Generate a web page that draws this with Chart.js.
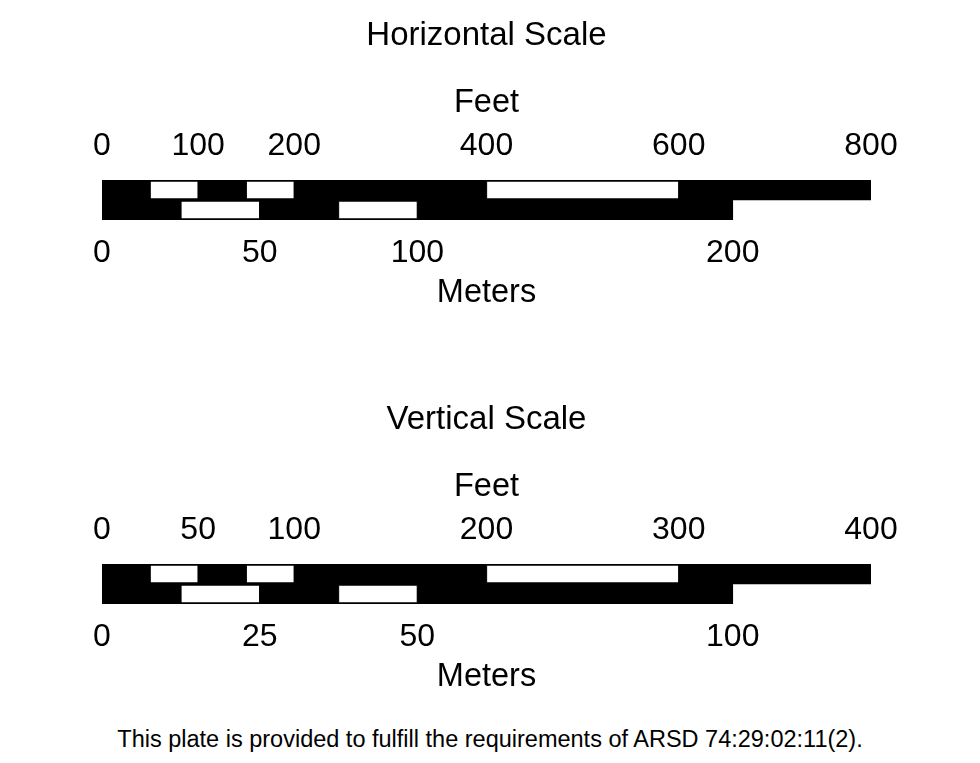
<!DOCTYPE html>
<html>
<head>
<meta charset="utf-8">
<script src="https://cdn.jsdelivr.net/npm/chart.js@4.4.0/dist/chart.umd.min.js"></script>
<style>
  body { margin:0; background:#fff; width:980px; height:763px; position:relative; overflow:hidden; font-family:"Liberation Sans", Arial, sans-serif; }
  canvas { position:absolute; left:0; }
  #hScale { top:0; }
  #vScale { top:384px; }
  #note { position:absolute; top:727px; left:0; width:980px; text-align:center; font-size:23.5px; line-height:24px; color:#000; }
</style>
</head>
<body>
<canvas id="hScale" width="980" height="320"></canvas>
<canvas id="vScale" width="980" height="320"></canvas>
<div id="note">This plate is provided to fulfill the requirements of ARSD 74:29:02:11(2).</div>
<script>
const FONT = "'Liberation Sans', Arial, sans-serif";
const FT_PER_M = 3.28084;

// rows of each scale bar
const rows = ["Feet", "Meters"];

// horizontal scale: segment breaks (alternating black / white) and labelled ticks
const hFeetBreaks = [0, 50, 100, 150, 200, 400, 600, 800];
const hMeterBreaks = [0, 25, 50, 75, 100, 200];
const hFeetTicks = [0, 100, 200, 400, 600, 800];
const hMeterTicks = [0, 50, 100, 200];

// vertical scale
const vFeetBreaks = [0, 25, 50, 75, 100, 200, 300, 400];
const vMeterBreaks = [0, 12.5, 25, 37.5, 50, 100];
const vFeetTicks = [0, 50, 100, 200, 300, 400];
const vMeterTicks = [0, 25, 50, 100];

function segments(breaks, row, axisId) {
    const sets = [];
    for (let i = 0; i < breaks.length - 1; i++) {
        const white = i % 2 === 1;
        const seg = [breaks[i], breaks[i + 1]];
        sets.push({
            data: row === 0 ? [seg, null] : [null, seg],
            xAxisID: axisId,
            yAxisID: "y",
            grouped: false,
            backgroundColor: white ? "#fff" : "#000",
            borderColor: "#000",
            borderWidth: white ? { top: 2, bottom: 2, left: 1, right: 1 } : 0,
            borderSkipped: false,
            barPercentage: 1,
            categoryPercentage: 1
        });
    }
    return sets;
}

function axis(position, max, ticks, title, pad, height) {
    return {
        type: "linear", axis: "x", position, min: 0, max,
        grid: { display: false, drawTicks: false },
        border: { display: false },
        afterBuildTicks: s => { s.ticks = ticks.map(v => ({ value: v })); },
        afterFit: s => { s.height = height; },
        ticks: {
            color: "#000", padding: pad, autoSkip: false, maxRotation: 0, minRotation: 0,
            font: { family: FONT, size: 32 },
            callback: v => String(v)
        },
        title: { display: true, text: title, color: "#000", padding: 0, font: { family: FONT, size: 32.5 } }
    };
}

function drawScale(canvasId, heading, feetBreaks, meterBreaks, feetTicks, meterTicks) {
    const feetMax = feetBreaks[feetBreaks.length - 1];
    new Chart(document.getElementById(canvasId).getContext("2d"), {
        type: "bar",
        data: {
            labels: rows,
            datasets: [...segments(feetBreaks, 0, "ft"), ...segments(meterBreaks, 1, "m")]
        },
        options: {
            indexAxis: "y",
            responsive: false,
            animation: false,
            devicePixelRatio: 1,
            layout: { padding: { left: 102, right: 109, top: 0, bottom: 7.3 } },
            plugins: {
                legend: { display: false },
                tooltip: { enabled: false },
                title: {
                    display: true, text: heading, color: "#000",
                    font: { family: FONT, size: 33, weight: "normal" },
                    padding: { top: 16.4, bottom: 27.8 }
                }
            },
            scales: {
                y: { type: "category", display: false, offset: true },
                ft: axis("top", feetMax, feetTicks, "Feet", 15, 96.2),
                m: axis("bottom", feetMax / FT_PER_M, meterTicks, "Meters", 13.8, 92.7)
            }
        }
    });
}

drawScale("hScale", "Horizontal Scale", hFeetBreaks, hMeterBreaks, hFeetTicks, hMeterTicks);
drawScale("vScale", "Vertical Scale", vFeetBreaks, vMeterBreaks, vFeetTicks, vMeterTicks);
</script>
</body>
</html>
